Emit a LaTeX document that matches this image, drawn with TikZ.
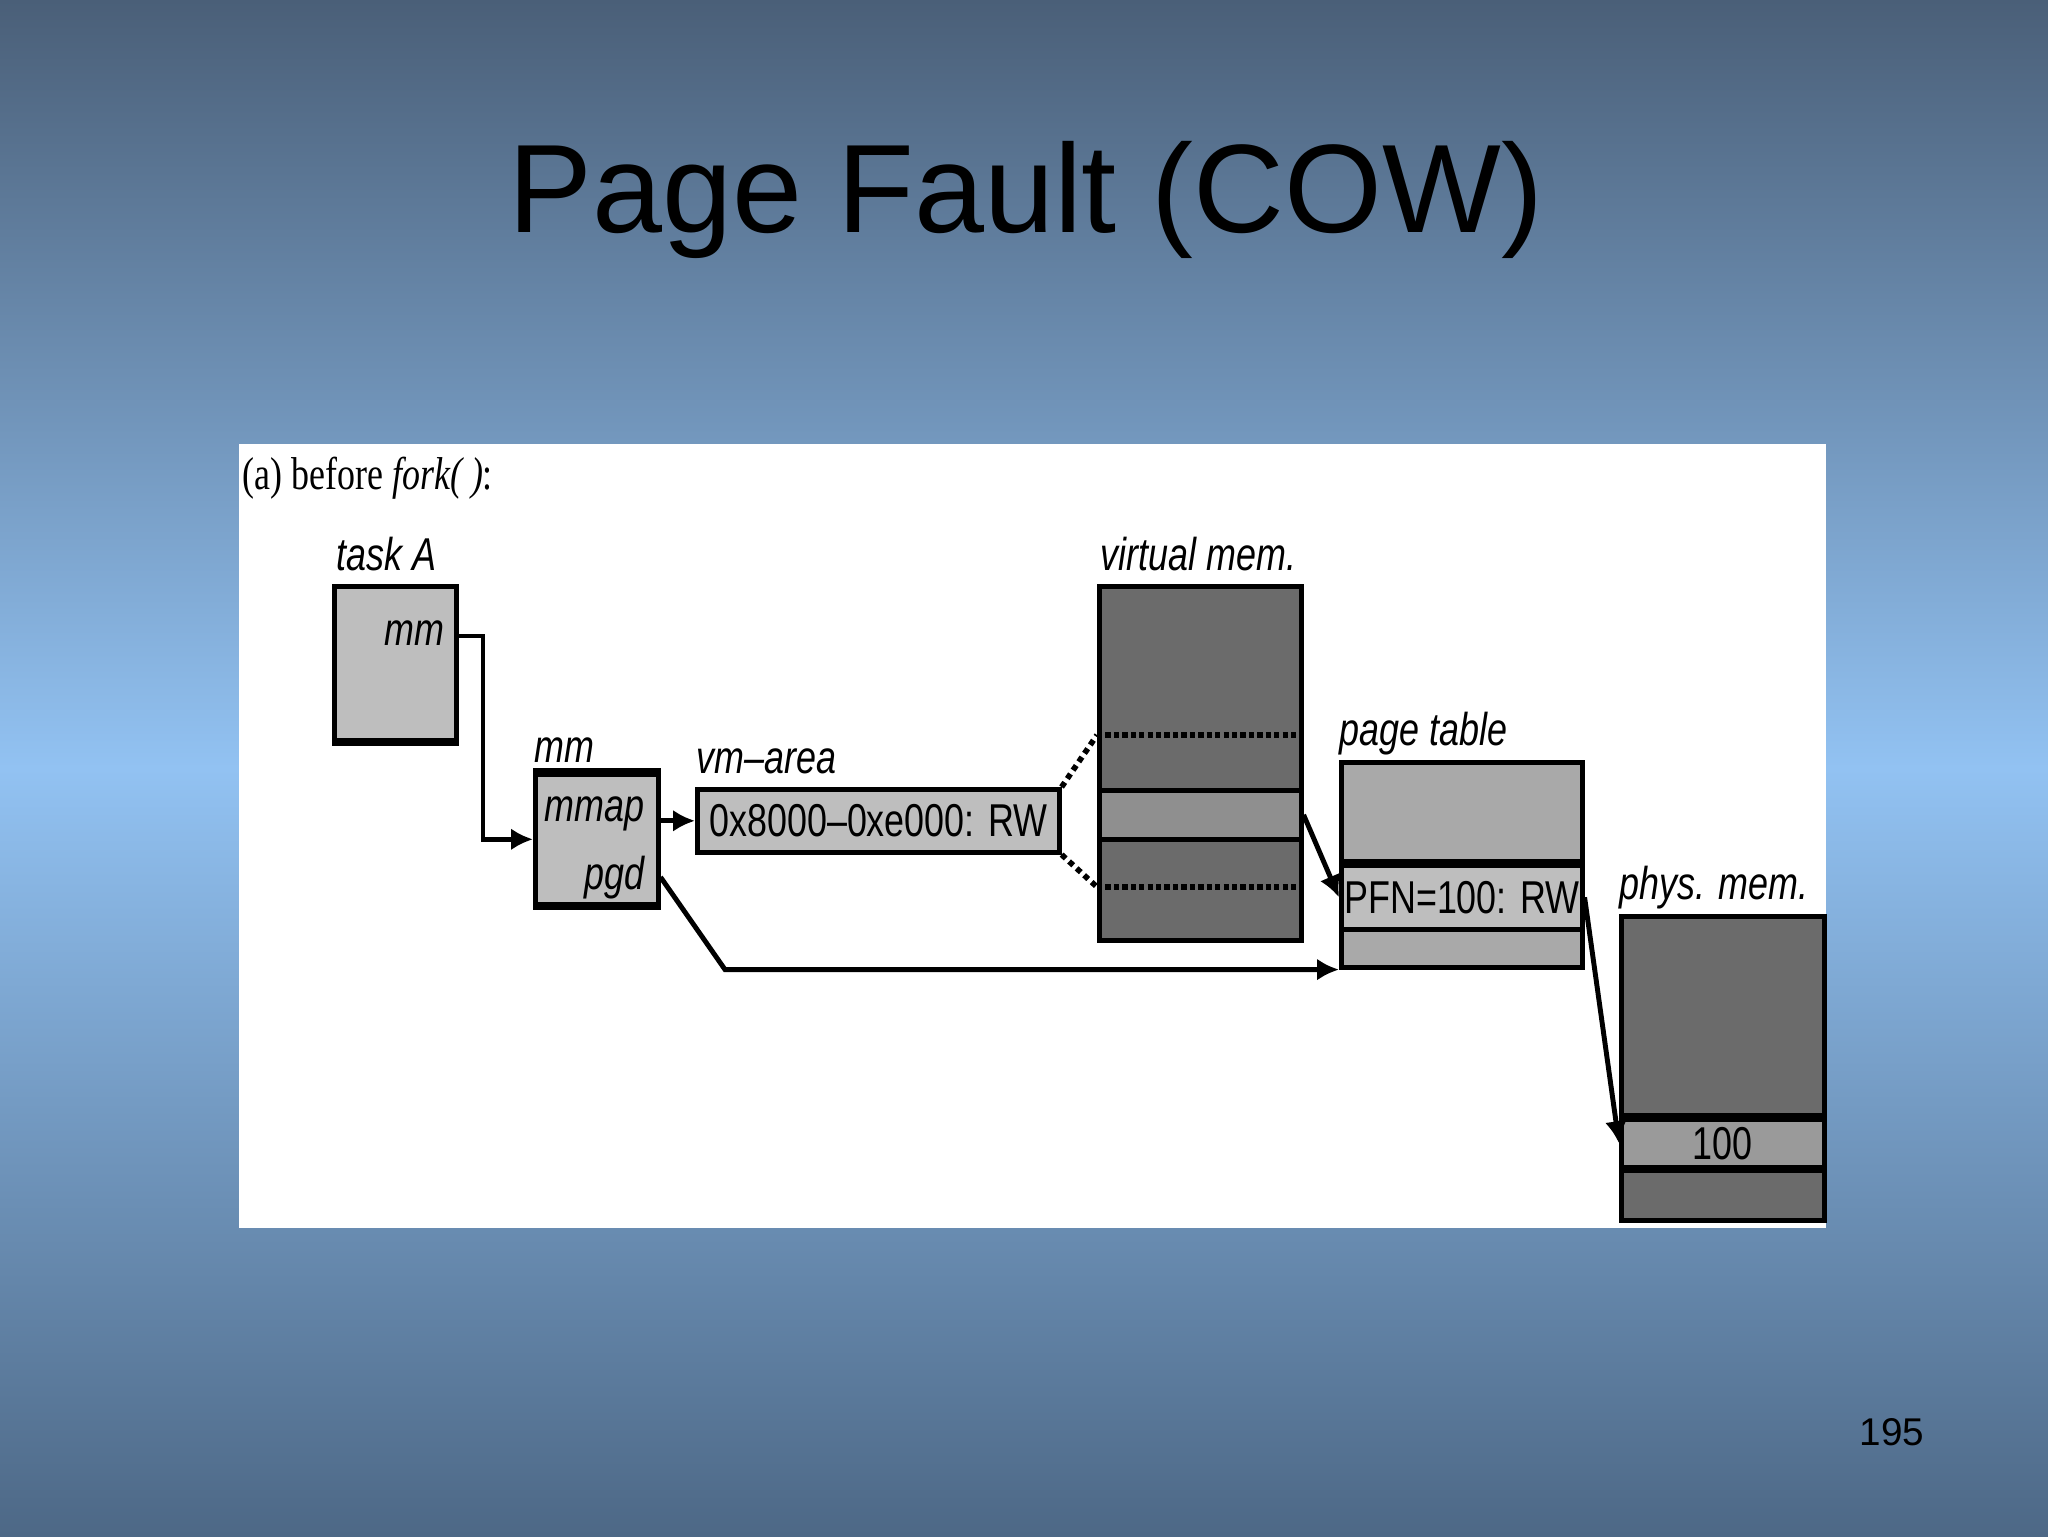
\documentclass[tikz,border=0pt]{standalone}
\usepackage{fontspec}
\usetikzlibrary{arrows.meta}
\newfontfamily\titlefont{Liberation Sans}
\newfontfamily\figfont[FakeStretch=0.78]{Liberation Sans}
\newfontfamily\figserif[FakeStretch=0.78]{Liberation Serif}
\definecolor{slidetop}{HTML}{4A5F78}
\definecolor{slidemid}{HTML}{92C2F2}
\definecolor{slidebot}{HTML}{4D6886}
\definecolor{boxgray}{HTML}{BEBEBE}
\definecolor{vdark}{HTML}{6B6B6B}
\definecolor{vband}{HTML}{8F8F8F}
\definecolor{ptgray}{HTML}{A9A9A9}
\definecolor{pband}{HTML}{9A9A9A}
\tikzset{
  box/.style={draw, line width=1.3pt, inner sep=0pt, anchor=north west},
  boxtext/.style={font=\figfont\fontsize{13.1}{15}\selectfont},
  lbl/.style={font=\figfont\fontsize{13.1}{15}\selectfont\itshape, anchor=base west, inner sep=0pt},
  link/.style={line width=1.4pt, -{Latex[length=2.2mm,width=2.2mm]}},
  proj/.style={line width=1.6pt, dash pattern=on 1.6pt off 1.3pt},
  dotline/.style={line width=1.5pt, dash pattern=on 1.5pt off 0.9pt},
}
\begin{document}
\begin{tikzpicture}[x=0.1mm, y=-0.1mm]
  \useasboundingbox (0,0) rectangle (2048,1536);
  % slide background
  \shade[top color=slidetop, bottom color=slidebot, middle color=slidemid] (0,0) rectangle (2048,1536);
  \node[font=\titlefont\fontsize{35.8}{40}\selectfont, anchor=base] (title) at (1026,232) {Page Fault (COW)};
  \node[font=\titlefont\fontsize{11}{13}\selectfont, anchor=base] (pageno) at (1892,1445) {195};
  \fill[white] (239,444) rectangle (1826,1228);
  \node[font=\figserif\fontsize{13.1}{15}\selectfont, anchor=base west, inner sep=0pt] (caption) at (242,489) {(a) before \textit{fork( )}:};
  % task A
  \node[lbl] (taskAlbl) at (336,570) {task A};
  \node[box, fill=boxgray, minimum width=12.2mm, minimum height=15.4mm] (taskA) at (332,584) {};
  \draw[line width=2.2pt] (taskA.south west) -- (taskA.south east);
  \node[lbl, anchor=base east] (mmA) at (445,645) {mm};
  % mm struct
  \node[lbl] (mmlbl) at (534,762) {mm};
  \node[box, fill=boxgray, minimum width=12.3mm, minimum height=13mm] (mmbox) at (533,772) {};
  \draw[line width=2.2pt] (mmbox.north west) -- (mmbox.north east) (mmbox.south west) -- (mmbox.south east);
  \node[lbl, anchor=base east] (mmap) at (645,821) {mmap};
  \node[lbl, anchor=base east] (pgd) at (645,889) {pgd};
  % vm-area
  \node[lbl] (vmlbl) at (696,773) {vm–area};
  \node[box, boxtext, fill=boxgray, minimum width=36.2mm, minimum height=6.3mm] (vmarea) at (695,787) {0x8000–0xe000: RW};
  % virtual memory
  \node[lbl] (vmemlbl) at (1100,570) {virtual mem.};
  \node[box, fill=vdark, minimum width=20.2mm, minimum height=35.4mm] (vmem) at (1097,584) {};
  \node[box, fill=vband, minimum width=20.2mm, minimum height=4.9mm] (band) at (1097,788) {};
  \coordinate (vtop) at (1097,735);
  \coordinate (vbot) at (1097,887);
  \draw[dotline] (vtop) -- (vtop -| vmem.east);
  \draw[dotline] (vbot) -- (vbot -| vmem.east);
  \draw[proj] (vmarea.north east) -- (vtop);
  \draw[proj] (vmarea.south east) -- (vbot);
  % page table
  \node[lbl] (ptlbl) at (1339,745) {page table};
  \node[box, fill=ptgray, minimum width=24.1mm, minimum height=20.5mm] (ptable) at (1339,760) {};
  \node[box, boxtext, fill=boxgray, minimum width=24.1mm, minimum height=6.4mm] (pfn) at (1339,863) {PFN=100: RW};
  \draw[line width=2.5pt] (pfn.north west) -- (pfn.north east);
  % physical memory
  \node[lbl] (pmlbl) at (1619,899) {phys. mem.};
  \node[box, fill=vdark, minimum width=20.3mm, minimum height=30.4mm] (pmem) at (1619,914) {};
  \node[box, boxtext, fill=pband, minimum width=20.3mm, minimum height=4.8mm] (page100) at (1619,1117) {100};
  \draw[line width=2.2pt] (page100.north west) -- (page100.north east) (page100.south west) -- (page100.south east);
  % pointers
  \coordinate (bend1) at (483,636);
  \coordinate (bend2) at (725,0);
  \draw[link] (taskA.east |- bend1) -- (bend1) |- (mmbox.west);
  \draw[link] (mmbox.east |- vmarea.west) -- (vmarea.west);
  \draw[link] (mmbox.east |- pgd) -- (bend2 |- ptable.south) -- (ptable.south west);
  \draw[link] (band.east) -- (pfn.west);
  \draw[link] (pfn.east) -- (page100.west);
\end{tikzpicture}
\end{document}
